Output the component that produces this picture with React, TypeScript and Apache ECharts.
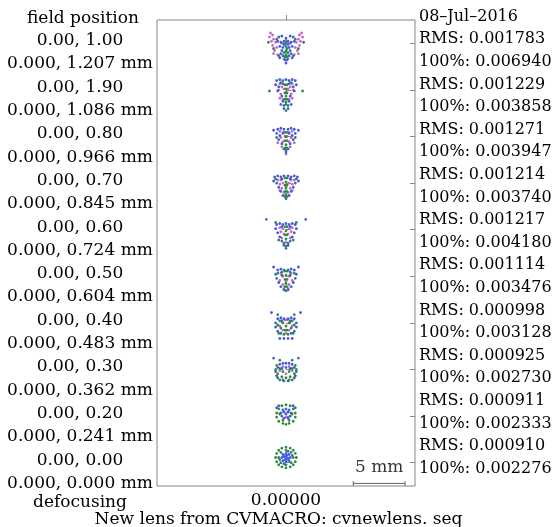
import React, { useEffect, useRef } from "react";
import * as echarts from "echarts";

const fieldLabels = ["0.00, 1.00", "0.00, 1.90", "0.00, 0.80", "0.00, 0.70", "0.00, 0.60", "0.00, 0.50", "0.00, 0.40", "0.00, 0.30", "0.00, 0.20", "0.00, 0.00"];
const fieldMm = ["0.000, 1.207 mm", "0.000, 1.086 mm", "0.000, 0.966 mm", "0.000, 0.845 mm", "0.000, 0.724 mm", "0.000, 0.604 mm", "0.000, 0.483 mm", "0.000, 0.362 mm", "0.000, 0.241 mm", "0.000, 0.000 mm"];
const rmsValues = ["0.001783", "0.001229", "0.001271", "0.001214", "0.001217", "0.001114", "0.000998", "0.000925", "0.000911", "0.000910"];
const pctValues = ["0.006940", "0.003858", "0.003947", "0.003740", "0.004180", "0.003476", "0.003128", "0.002730", "0.002333", "0.002276"];
const defocusValue = "0.00000";
const dateText = "08–Jul–2016";
const titleText = "New lens from CVMACRO: cvnewlens. seq";
const scaleBarLabel = "5 mm";
const scaleBarLength = 50; // axis units (0.1 mm)
const scaleBarStart = 65;
const slotSize = 45;
// centroid shift of each spot inside its field slot (axis units)
const centroidShift = [3, 3, 3, 5, 5, 3, 1, 0, -2, -5];

// spot points, offsets from the field centre [dx, dy] (dy downwards)
const blueSpots: number[][][] = [
  [[-7,-9],[-4,-10],[0,-8],[4,-10],[7,-9],[-8,-5],[-5,-4],[-2,-5],[2,-5],[5,-4],[8,-5],[-6,0],[-3,1],[0,0],[3,1],[6,0],[-4,4],[0,5],[4,4],[-3,9],[3,9],[-1,13],[1,13],[0,16],[-6,11],[6,11],[-2,-2],[2,-2],[-5,7],[5,7]],
  [[-9,-12],[-6,-13],[-3,-12],[0,-13],[3,-12],[6,-13],[9,-12],[-10,-8],[10,-8],[-7,-6],[7,-6],[-8,-2],[8,-2],[-4,3],[4,3],[-3,8],[3,8],[0,11],[-5,11],[5,11],[-2,15],[2,15],[-3,-9],[3,-9]],
  [[-8,-10],[-5,-11],[-2,-10],[2,-10],[5,-11],[8,-10],[-9,-6],[9,-6],[-6,-4],[6,-4],[-7,0],[7,0],[-4,4],[4,4],[-2,9],[2,9],[0,12],[-12,-9],[12,-9],[-3,-6],[3,-6]],
  [[-11,-11],[-8,-12],[-5,-11],[-2,-12],[2,-12],[5,-11],[8,-12],[11,-11],[-12,-7],[12,-7],[-9,-5],[9,-5],[-7,-1],[7,-1],[-5,3],[5,3],[-3,7],[3,7],[0,10],[-4,-9],[4,-9]],
  [[-19,-15],[19,-15],[-9,-10],[-6,-11],[-3,-10],[0,-11],[3,-10],[6,-11],[9,-10],[-10,-6],[10,-6],[-8,-2],[8,-2],[-6,2],[6,2],[-4,6],[4,6],[-2,10],[2,10],[0,13],[-4,-8],[4,-8]],
  [[-12,-12],[12,-12],[-8,-9],[-5,-10],[-2,-9],[2,-9],[5,-10],[8,-9],[-10,-5],[10,-5],[-9,-1],[9,-1],[-7,3],[7,3],[-5,7],[5,7],[-2,10],[2,10],[-4,-4],[4,-4]],
  [[-14,-11],[14,-11],[-8,-5],[-5,-6],[-2,-5],[2,-5],[5,-6],[8,-5],[-10,-1],[10,-1],[-10,3],[10,3],[-8,7],[8,7],[-5,9],[5,9],[-6,14],[-2,14],[2,14],[6,14],[-4,-3],[4,-3]],
  [[-12,-11],[12,-11],[-6,-5],[-3,-6],[0,-6],[3,-6],[6,-5],[-8,-2],[8,-2],[-4,-1],[0,-2],[4,-1],[-10,2],[10,2],[-9,6],[9,6],[-6,10],[6,10],[-2,11],[2,11]],
  [[-3,-4],[0,-5],[3,-4],[-5,-1],[5,-1],[-4,2],[4,2],[0,0],[-2,4],[2,4],[-9,-6],[9,-6],[-7,-8],[7,-8],[-2,-2],[2,-2]],
  [[0,-4],[3,-3],[4,0],[3,3],[0,4],[-3,3],[-4,0],[-3,-3],[0,0],[-2,-1],[2,1],[6,-2],[-6,2],[2,-6],[-2,6],[-1,2],[1,-2]],
];
const greenSpots: number[][][] = [
  [[-17,-4],[17,-4],[-1,-2],[1,2],[0,4],[-2,6],[2,6],[0,8],[-9,-7],[9,-7],[-7,9],[7,9],[-1,10],[1,10],[-12,2],[12,2],[0,-4]],
  [[-16,-2],[16,-2],[-1,-8],[1,-8],[0,-4],[-1,0],[1,0],[0,3],[-1,6],[1,6],[0,9],[-2,12],[2,12],[0,17],[-5,-10],[5,-10]],
  [[-1,-7],[1,-7],[0,-3],[-1,1],[1,1],[0,5],[-1,8],[1,8],[-9,-2],[9,-2],[0,10]],
  [[-1,-10],[1,-10],[0,-6],[-1,-3],[1,-3],[0,0],[-1,3],[1,3],[0,6],[-1,8],[1,8],[-10,-9],[10,-9]],
  [[-10,-12],[10,-12],[-1,-8],[1,-8],[0,-4],[-1,0],[1,0],[0,4],[-2,8],[2,8],[0,11],[-7,5],[7,5]],
  [[-1,-8],[1,-8],[-4,-7],[4,-7],[0,-4],[-1,0],[1,0],[0,4],[-1,7],[1,7],[-8,-6],[8,-6],[0,11]],
  [[-8,-9],[8,-9],[-6,-3],[6,-3],[-3,-1],[3,-1],[-8,1],[8,1],[-5,4],[5,4],[-7,9],[7,9],[-2,10],[2,10],[0,2],[-1,6],[1,6]],
  [[-6,-9],[6,-9],[-9,-4],[9,-4],[-6,-1],[6,-1],[-10,0],[10,0],[-8,4],[8,4],[-3,2],[3,2],[-4,7],[4,7],[0,8],[-8,8],[8,8],[-3,10],[3,10]],
  [[-4,-8],[0,-9],[4,-8],[-7,-5],[7,-5],[-9,-1],[9,-1],[-9,3],[9,3],[-7,7],[7,7],[-3,9],[0,10],[3,9],[-6,0],[6,0],[-3,6],[3,6]],
  [[0,-10],[4,-9],[7,-7],[9,-4],[10,0],[9,4],[7,7],[4,9],[0,10],[-4,9],[-7,7],[-9,4],[-10,0],[-9,-4],[-7,-7],[-4,-9],[0,-7],[5,-5],[7,0],[5,5],[0,7],[-5,5],[-7,0],[-5,-5]],
];
const magentaSpots: number[][][] = [
  [[-15,-13],[-13,-11],[-16,-9],[-12,-7],[-14,-5],[-10,-4],[-13,-1],[-9,1],[-11,4],[-12,7],[-8,8],[15,-13],[13,-11],[16,-9],[12,-7],[14,-5],[10,-4],[13,-1],[9,1],[11,4],[12,7],[8,8],[-4,-3],[4,-3],[0,-6],[-2,12],[2,12]],
  [[-6,-9],[6,-9],[-4,-6],[4,-6],[-7,-3],[7,-3],[-2,-4],[2,-4],[-5,1],[5,1],[0,-1],[-3,6],[3,6],[-6,5],[6,5]],
  [[-6,-8],[6,-8],[-3,-7],[3,-7],[-5,-2],[5,-2],[-1,-3],[1,-3],[-3,2],[3,2],[-4,7],[4,7],[-8,3],[8,3],[0,14]],
  [[-8,-8],[8,-8],[-5,-8],[5,-8],[-6,-4],[6,-4],[-3,-5],[3,-5],[-4,0],[4,0],[-2,4],[2,4],[-6,2],[6,2],[0,-2]],
  [[-6,-7],[6,-7],[-3,-6],[3,-6],[-5,-3],[5,-3],[-2,-1],[2,-1],[-4,3],[4,3],[0,7]],
  [[-5,-6],[5,-6],[-3,-3],[3,-3],[-6,1],[6,1],[-3,5],[3,5],[-2,9],[2,9],[0,2]],
  [[-4,-2],[4,-2],[-6,2],[6,2],[-3,6],[3,6],[0,9],[-1,-4],[1,-4]],
  [[-3,-3],[3,-3],[-6,1],[6,1],[0,4]],
  [[-2,-2],[2,-2],[0,3]],
  [[-1,-2],[1,2]],
];

const FONT = "'DejaVu Serif', serif";

function buildSeries(spots: number[][][]) {
  const out: number[][] = [];
  spots.forEach((pts, i) => {
    const c = slotSize * (i + 0.5) + centroidShift[i];
    pts.forEach(([dx, dy]) => out.push([dx, c + dy]));
  });
  return out;
}

export default function App() {
  const ref = useRef<HTMLDivElement>(null);
  useEffect(() => {
    if (!ref.current) return;
    const chart = echarts.init(ref.current, null, { renderer: "svg" });
    const n = fieldLabels.length;
    const centers = fieldLabels.map((_, i) => slotSize * (i + 0.5));
    const idx = (v: number) => Math.round(v / slotSize - 0.5);
    const textBase = { fontFamily: FONT, fontSize: 17, color: "#000", lineHeight: 23 };
    const rightLines: string[] = [dateText];
    rmsValues.forEach((r, i) => {
      rightLines.push(`RMS: ${r}`);
      rightLines.push(`100%: ${pctValues[i]}`);
    });
    const spotSeries = (name: string, color: string, spots: number[][][]) => ({
      type: "scatter",
      name,
      data: buildSeries(spots),
      symbol: "circle",
      symbolSize: 2.8,
      itemStyle: { color, opacity: 1 },
      silent: true,
    });
    chart.setOption({
      animation: false,
      grid: { left: 157, top: 20, width: 258, height: 466, show: true, borderColor: "#858585", borderWidth: 1, backgroundColor: "transparent" },
      xAxis: {
        type: "value",
        min: -124.6,
        max: 124.6,
        axisLine: { show: false },
        splitLine: { show: false },
        axisTick: { show: true, inside: true, length: 5, customValues: [0], lineStyle: { color: "#858585" } },
        axisLabel: { show: true, customValues: [0], margin: 4, formatter: () => defocusValue, ...textBase, lineHeight: 17 },
      },
      yAxis: [
        {
          type: "value",
          inverse: true,
          min: 0,
          max: slotSize * n,
          position: "left",
          axisLine: { show: false },
          splitLine: { show: false },
          axisTick: { show: true, inside: true, length: 5, customValues: centers, lineStyle: { color: "#858585" } },
          axisLabel: {
            show: true,
            customValues: centers,
            margin: 77,
            align: "center",
            padding: [15, 0, 0, 0],
            formatter: (v: number) => `{a|${fieldLabels[idx(v)]}}\n{a|${fieldMm[idx(v)]}}`,
            rich: { a: { ...textBase, lineHeight: 23.2, align: "center" } },
          },
        },
        {
          type: "value",
          inverse: true,
          min: 0,
          max: slotSize * n,
          position: "right",
          axisLine: { show: false },
          splitLine: { show: false },
          axisTick: { show: true, inside: true, length: 5, customValues: centers, lineStyle: { color: "#858585" } },
          axisLabel: { show: false },
        },
      ],
      series: [
        spotSeries("magenta", "#c765c9", magentaSpots),
        spotSeries("blue", "#3f5bdc", blueSpots),
        spotSeries("green", "#2f8a3c", greenSpots),
        {
          type: "line",
          data: [[scaleBarStart, 447.5], [scaleBarStart + scaleBarLength, 447.5]],
          symbol: "rect",
          symbolSize: [1, 5],
          showSymbol: true,
          lineStyle: { color: "#666", width: 1 },
          itemStyle: { color: "#666" },
          silent: true,
        },
        {
          type: "scatter",
          data: [[scaleBarStart + scaleBarLength / 2, 447.5]],
          symbolSize: 0,
          silent: true,
          label: { show: true, position: "top", distance: 9, formatter: scaleBarLabel, ...textBase, lineHeight: 17 },
        },
      ],
      graphic: [
        { type: "text", left: 27, top: 8, style: { text: "field position", font: `17px ${FONT}`, fill: "#000" } },
        { type: "text", left: 419, top: 4, style: { text: rightLines.join("\n"), font: `16px ${FONT}`, fill: "#000", lineHeight: 22.6 } },
        { type: "text", left: 33, top: 492, style: { text: "defocusing", font: `17px ${FONT}`, fill: "#000" } },
        { type: "text", left: "center", top: 509, style: { text: titleText, font: `17px ${FONT}`, fill: "#000" } },
      ],
    });
    return () => chart.dispose();
  }, []);
  return <div ref={ref} style={{ position: "fixed", left: 0, top: 0, width: 557, height: 527 }} />;
}
